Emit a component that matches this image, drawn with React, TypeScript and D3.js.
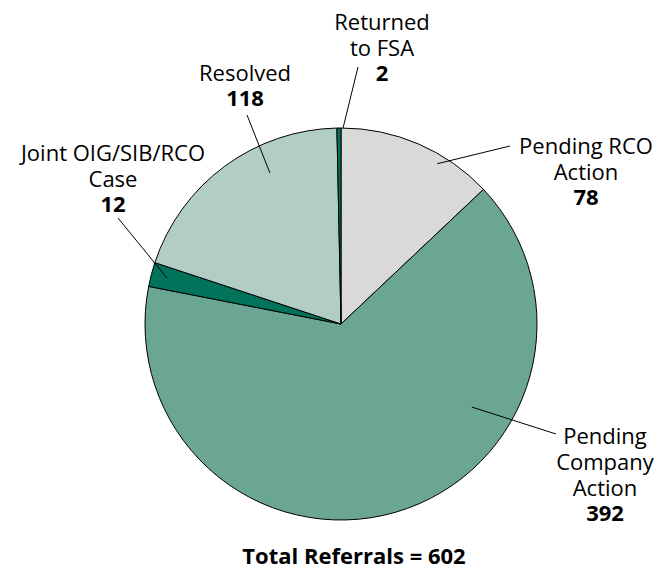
import React from "react";
import * as d3 from "d3";

const categories = ["Pending RCO Action", "Pending Company Action", "Joint OIG/SIB/RCO Case", "Resolved", "Returned to FSA"];
const values = [78, 392, 12, 118, 2];
const labelLines = [
  ["Pending RCO", "Action"],
  ["Pending", "Company", "Action"],
  ["Joint OIG/SIB/RCO", "Case"],
  ["Resolved"],
  ["Returned", "to FSA"],
];
const colors = ["#d9d9d9", "#6ba594", "#00735a", "#b2cdc5", "#00735a"];
const totalLabel = "Total Referrals = 602";

// layout
const W = 669, H = 569;
const cx = 341, cy = 324, R = 196;
const labelPos = [
  { x: 586, y: 154 },
  { x: 605, y: 444 },
  { x: 113, y: 161 },
  { x: 245, y: 81 },
  { x: 382, y: 30 },
];
const lineH = 26;
const leaderInner = [
  { a: 31, r: 187 },
  { a: 122.4, r: 155 },
  { a: 284.8, r: 180 },
  { a: 334.8, r: 167 },
  { a: 0.6, r: 196 },
];
const leaderOuter = [
  { x: 510, y: 146 },
  { x: 556, y: 434 },
  { x: 118, y: 218 },
  { x: 247, y: 115 },
  { x: 358, y: 67 },
];

const font = "'Open Sans', sans-serif";

export default function App() {
  const pie = d3.pie<number>().sort(null).value((d) => d);
  const arcs = pie(values);
  const arc = d3.arc<d3.PieArcDatum<number>>().innerRadius(0).outerRadius(R);
  const polar = (aDeg: number, r: number) => {
    const a = (aDeg * Math.PI) / 180;
    return [cx + r * Math.sin(a), cy - r * Math.cos(a)];
  };
  return (
    <svg width={W} height={H} style={{ position: "absolute", left: 0, top: 0 }}>
      <rect width={W} height={H} fill="#fff" />
      <g transform={`translate(${cx},${cy})`}>
        {arcs.map((a, i) => (
          <path key={i} d={arc(a) || ""} fill={colors[i]} stroke="#000" strokeWidth={1} />
        ))}
      </g>
      {categories.map((c, i) => {
        const [x1, y1] = polar(leaderInner[i].a, leaderInner[i].r);
        const o = leaderOuter[i];
        return <line key={"l" + i} x1={x1} y1={y1} x2={o.x} y2={o.y} stroke="#000" strokeWidth={1} />;
      })}
      {categories.map((c, i) => {
        const p = labelPos[i];
        const lines = labelLines[i];
        return (
          <text key={"t" + i} x={p.x} y={p.y} textAnchor="middle" fontFamily={font} fontSize={22} fill="#000">
            {lines.map((ln, j) => (
              <tspan key={j} x={p.x} y={p.y + j * lineH}>{ln}</tspan>
            ))}
            <tspan x={p.x} y={p.y + lines.length * lineH - 1} fontWeight="bold">{values[i]}</tspan>
          </text>
        );
      })}
      <text x={354} y={564} textAnchor="middle" fontFamily={font} fontSize={22} fontWeight="bold" fill="#000">
        {totalLabel}
      </text>
    </svg>
  );
}
